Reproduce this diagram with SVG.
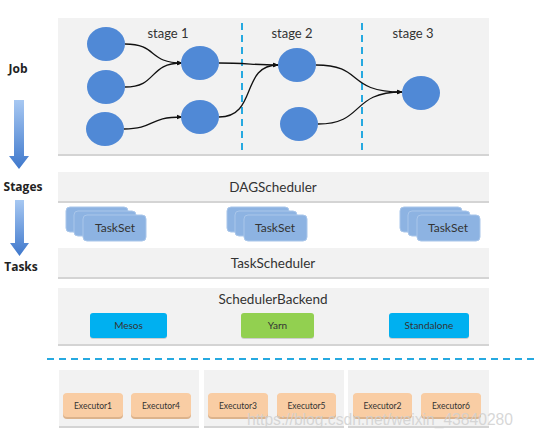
<svg xmlns="http://www.w3.org/2000/svg" width="534" height="438" viewBox="0 0 534 438">
<style>
.panel{fill:#f2f2f2}
.shadow{fill:#d4d4d4}
.node{fill:#5089d6}
.edge{fill:none;stroke:#111;stroke-width:1.3}
.lbl{font-family:Lato,"Open Sans","Liberation Sans",sans-serif;fill:#333;text-anchor:middle}
.side{font-family:"Open Sans","Liberation Sans",sans-serif;font-weight:bold;font-size:12px;fill:#222;text-anchor:middle}
.dash{stroke:#26a9e0;stroke-width:2;stroke-dasharray:7,5}
.ts{fill:#8db3e2;stroke:#a9c6ea;stroke-width:1}
.exec{fill:#f9cda4}
.execsh{fill:#dcb38c}
</style>
<defs>
<marker id="ah" viewBox="0 0 10 10" refX="9" refY="5" markerWidth="6" markerHeight="6" orient="auto" markerUnits="userSpaceOnUse"><path d="M0,1 L10,5 L0,9 Z" fill="#111"/></marker>
<linearGradient id="ag" x1="0" y1="0" x2="0" y2="1"><stop offset="0" stop-color="#a7c8f2"/><stop offset="1" stop-color="#3f78cc"/></linearGradient>
</defs>
<rect width="534" height="438" fill="#fff"/>

<!-- left labels and arrows -->
<g id="job-label"><text class="side" x="18" y="73">Job</text></g>
<g id="arrow1"><path d="M14,100 H24 V156 H29 L19,169 L9,156 H14 Z" fill="url(#ag)"/></g>
<g id="stages-label"><text class="side" x="23" y="191">Stages</text></g>
<g id="arrow2"><path d="M15,200 H24 V243 H29 L19.5,256 L10,243 H15 Z" fill="url(#ag)"/></g>
<g id="tasks-label"><text class="side" x="21" y="271">Tasks</text></g>

<!-- job panel -->
<g id="job-panel">
<rect class="shadow" x="58" y="19" width="431" height="137"/>
<rect class="panel" x="58" y="18" width="431" height="136"/>
<line class="dash" x1="242" y1="23" x2="242" y2="151"/>
<line class="dash" x1="362" y1="23" x2="362" y2="151"/>
<text class="lbl" x="168" y="38" font-size="13">stage 1</text>
<text class="lbl" x="292" y="38" font-size="13">stage 2</text>
<text class="lbl" x="413" y="38" font-size="13">stage 3</text>
</g>

<g id="connectors">
<path class="edge" marker-end="url(#ah)" d="M125,44 C158,44 148,63 182,63"/>
<path class="edge" marker-end="url(#ah)" d="M125,87 C158,87 148,63 182,63"/>
<path class="edge" marker-end="url(#ah)" d="M124,129 C155,129 148,117 182,117"/>
<path class="edge" marker-end="url(#ah)" d="M219,63 C245,63 255,65 278,65"/>
<path class="edge" marker-end="url(#ah)" d="M219,117 C258,117 240,65 278,65"/>
<path class="edge" marker-end="url(#ah)" d="M316,65 C365,65 345,92 402,92"/>
<path class="edge" marker-end="url(#ah)" d="M318,124 C365,124 350,92 402,92"/>
</g>

<g id="n1"><ellipse class="node" cx="106" cy="44" rx="19" ry="17"/></g>
<g id="n2"><ellipse class="node" cx="106" cy="87" rx="19" ry="17"/></g>
<g id="n3"><ellipse class="node" cx="105" cy="129" rx="19" ry="17"/></g>
<g id="n4"><ellipse class="node" cx="200" cy="63" rx="19" ry="17"/></g>
<g id="n5"><ellipse class="node" cx="200" cy="117" rx="19" ry="17"/></g>
<g id="n6"><ellipse class="node" cx="297" cy="65" rx="19" ry="17"/></g>
<g id="n7"><ellipse class="node" cx="299" cy="124" rx="19" ry="17"/></g>
<g id="n8"><ellipse class="node" cx="421" cy="93" rx="19" ry="17"/></g>

<g id="dagscheduler">
<rect class="shadow" x="58" y="173" width="431" height="30"/>
<rect class="panel" x="58" y="172" width="431" height="29"/>
<text class="lbl" x="273" y="192" font-size="13.5">DAGScheduler</text>
</g>

<g id="taskset1">
<rect class="ts" x="66" y="207" width="62" height="25" rx="4"/>
<rect class="ts" x="74" y="211" width="62" height="25" rx="4"/>
<rect class="ts" x="83" y="215" width="63" height="26" rx="4"/>
<text class="lbl" x="115" y="232" font-size="12">TaskSet</text>
</g>
<g id="taskset2">
<rect class="ts" x="227" y="207" width="62" height="25" rx="4"/>
<rect class="ts" x="235" y="211" width="62" height="25" rx="4"/>
<rect class="ts" x="244" y="215" width="63" height="26" rx="4"/>
<text class="lbl" x="275" y="232" font-size="12">TaskSet</text>
</g>
<g id="taskset3">
<rect class="ts" x="400" y="207" width="62" height="25" rx="4"/>
<rect class="ts" x="408" y="211" width="62" height="25" rx="4"/>
<rect class="ts" x="417" y="215" width="63" height="26" rx="4"/>
<text class="lbl" x="448" y="232" font-size="12">TaskSet</text>
</g>

<g id="taskscheduler">
<rect class="shadow" x="58" y="249" width="431" height="30"/>
<rect class="panel" x="58" y="248" width="431" height="29"/>
<text class="lbl" x="273" y="268" font-size="13.5">TaskScheduler</text>
</g>

<g id="schedulerbackend">
<rect class="shadow" x="58" y="289" width="431" height="57"/>
<rect class="panel" x="58" y="288" width="431" height="56"/>
<text class="lbl" x="273" y="304" font-size="13.5">SchedulerBackend</text>
</g>
<g id="mesos">
<rect x="90" y="314" width="77" height="25" rx="3" fill="#a8a8a8" opacity="0.5"/>
<rect x="90" y="313" width="77" height="25" rx="3" fill="#00b0f0"/>
<text class="lbl" x="128.5" y="329" font-size="10">Mesos</text>
</g>
<g id="yarn">
<rect x="241" y="314" width="73" height="25" rx="3" fill="#a8a8a8" opacity="0.5"/>
<rect x="241" y="313" width="73" height="25" rx="3" fill="#92d050"/>
<text class="lbl" x="277.5" y="329" font-size="10">Yarn</text>
</g>
<g id="standalone">
<rect x="389" y="314" width="80" height="25" rx="3" fill="#a8a8a8" opacity="0.5"/>
<rect x="389" y="313" width="80" height="25" rx="3" fill="#00b0f0"/>
<text class="lbl" x="429" y="329" font-size="10">Standalone</text>
</g>

<line class="dash" x1="47" y1="359" x2="534" y2="359"/>

<g id="worker1">
<rect class="shadow" x="59" y="371" width="140" height="57"/>
<rect class="panel" x="59" y="370" width="140" height="56"/>
</g>
<g id="worker2">
<rect class="shadow" x="204" y="371" width="140" height="57"/>
<rect class="panel" x="204" y="370" width="140" height="56"/>
</g>
<g id="worker3">
<rect class="shadow" x="348" y="371" width="141" height="57"/>
<rect class="panel" x="348" y="370" width="141" height="56"/>
</g>

<g id="executor1"><rect class="execsh" x="63" y="394" width="60" height="25" rx="4"/><rect class="exec" x="63" y="393" width="60" height="24" rx="4"/><text class="lbl" x="93" y="408.5" font-size="8.5">Executor1</text></g>
<g id="executor4"><rect class="execsh" x="131" y="394" width="60" height="25" rx="4"/><rect class="exec" x="131" y="393" width="60" height="24" rx="4"/><text class="lbl" x="161" y="408.5" font-size="8.5">Executor4</text></g>
<g id="executor3"><rect class="execsh" x="208" y="394" width="60" height="25" rx="4"/><rect class="exec" x="208" y="393" width="60" height="24" rx="4"/><text class="lbl" x="238" y="408.5" font-size="8.5">Executor3</text></g>
<g id="executor5"><rect class="execsh" x="277" y="394" width="59" height="25" rx="4"/><rect class="exec" x="277" y="393" width="59" height="24" rx="4"/><text class="lbl" x="306.5" y="408.5" font-size="8.5">Executor5</text></g>
<g id="executor2"><rect class="execsh" x="353" y="394" width="59" height="25" rx="4"/><rect class="exec" x="353" y="393" width="59" height="24" rx="4"/><text class="lbl" x="382.5" y="408.5" font-size="8.5">Executor2</text></g>
<g id="executor6"><rect class="execsh" x="421" y="394" width="60" height="25" rx="4"/><rect class="exec" x="421" y="393" width="60" height="24" rx="4"/><text class="lbl" x="451" y="408.5" font-size="8.5">Executor6</text></g>

<text x="247" y="425" font-family="'Liberation Sans',Arial,sans-serif" font-size="16" fill="#d0d0d0" fill-opacity="0.85" textLength="266" lengthAdjust="spacingAndGlyphs">https://blog.csdn.net/weixin_43840280</text>
</svg>
